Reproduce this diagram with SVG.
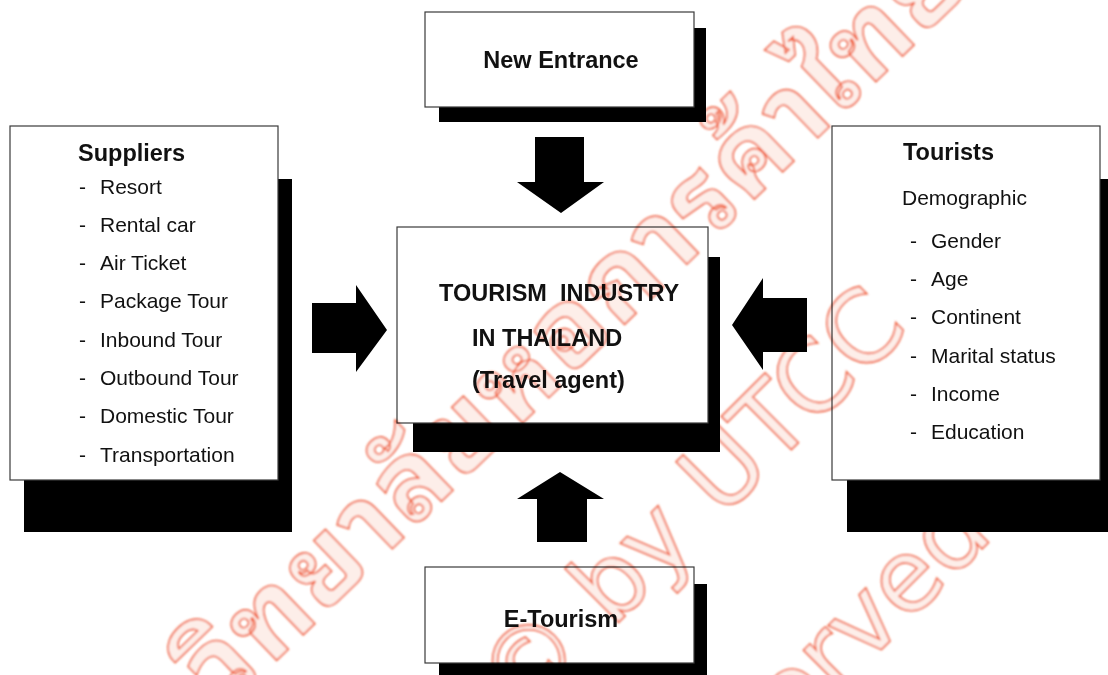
<svg xmlns="http://www.w3.org/2000/svg" width="1108" height="675" viewBox="0 0 1108 675">
  <defs>
    <filter id="soft" x="-5%" y="-5%" width="110%" height="110%">
      <feGaussianBlur stdDeviation="0.8"/>
    </filter>
  </defs>
  <style>
    .box { fill: #ffffff; stroke: #3a3a3a; stroke-width: 1.2; }
    .shadow { fill: #000000; }
    .arrow { fill: #000000; }
    .title { font-family: "Liberation Sans", Arial, sans-serif; font-size: 23.5px; font-weight: bold; fill: #111; }
    .item { font-family: "Liberation Sans", Arial, sans-serif; font-size: 21px; fill: #111; }
    .wm { font-family: "Noto Sans Thai Looped", "Noto Serif Thai", "Noto Sans Thai", "Loma", "Garuda", sans-serif; font-weight: bold; fill: #fdeee9; stroke: #f0603c; stroke-width: 1.6; }
    .wm-en { font-family: "DejaVu Sans", "Liberation Sans", sans-serif; fill: #fdeee9; stroke: #f0603c; stroke-width: 1.6; }
  </style>
  <rect width="1108" height="675" fill="#ffffff"/>

  <!-- Suppliers -->
  <g id="suppliers">
    <rect class="shadow" x="24" y="179" width="268" height="353"/>
    <rect class="box" x="10" y="126" width="268" height="354"/>
    <text class="title" x="78" y="161">Suppliers</text>
    <g class="item">
      <text x="79" y="194">-</text><text x="100" y="194">Resort</text>
      <text x="79" y="232">-</text><text x="100" y="232">Rental car</text>
      <text x="79" y="270">-</text><text x="100" y="270">Air Ticket</text>
      <text x="79" y="308">-</text><text x="100" y="308">Package Tour</text>
      <text x="79" y="347">-</text><text x="100" y="347">Inbound Tour</text>
      <text x="79" y="385">-</text><text x="100" y="385">Outbound Tour</text>
      <text x="79" y="423">-</text><text x="100" y="423">Domestic Tour</text>
      <text x="79" y="462">-</text><text x="100" y="462">Transportation</text>
    </g>
  </g>

  <!-- Tourists -->
  <g id="tourists">
    <rect class="shadow" x="847" y="179" width="270" height="353"/>
    <rect class="box" x="832" y="126" width="268" height="354"/>
    <text class="title" x="903" y="160">Tourists</text>
    <text class="item" x="902" y="205">Demographic</text>
    <g class="item">
      <text x="910" y="248">-</text><text x="931" y="248">Gender</text>
      <text x="910" y="286">-</text><text x="931" y="286">Age</text>
      <text x="910" y="324">-</text><text x="931" y="324">Continent</text>
      <text x="910" y="363">-</text><text x="931" y="363">Marital status</text>
      <text x="910" y="401">-</text><text x="931" y="401">Income</text>
      <text x="910" y="439">-</text><text x="931" y="439">Education</text>
    </g>
  </g>

  <!-- New Entrance -->
  <g id="new-entrance">
    <rect class="shadow" x="439" y="28" width="267" height="94"/>
    <rect class="box" x="425" y="12" width="269" height="95"/>
    <text class="title" x="561" y="68" text-anchor="middle">New Entrance</text>
  </g>

  <!-- Tourism industry (centre) -->
  <g id="industry">
    <rect class="shadow" x="413" y="257" width="307" height="195"/>
    <rect class="box" x="397" y="227" width="311" height="196"/>
    <text class="title" x="439" y="301" xml:space="preserve">TOURISM  INDUSTRY</text>
    <text class="title" x="472" y="346">IN THAILAND</text>
    <text class="title" x="472" y="388">(Travel agent)</text>
  </g>

  <!-- E-Tourism -->
  <g id="e-tourism">
    <rect class="shadow" x="439" y="584" width="268" height="100"/>
    <rect class="box" x="425" y="567" width="269" height="96"/>
    <text class="title" x="561" y="627" text-anchor="middle">E-Tourism</text>
  </g>

  <!-- Block arrows pointing at the centre -->
  <g id="connectors">
    <polygon class="arrow" points="535,137 584,137 584,182 604,182 561,213 517,182 535,182"/>
    <polygon class="arrow" points="537,542 587,542 587,499 604,499 560,472 517,499 537,499"/>
    <polygon class="arrow" points="312,303 356,303 356,285 387,330 356,372 356,353 312,353"/>
    <polygon class="arrow" points="807,298 763,298 763,278 732,325 763,370 763,352 807,352"/>
  </g>

  <!-- Copyright watermark, multiplied over the page -->
  <g id="watermark" style="mix-blend-mode: multiply" filter="url(#soft)">
    <text class="wm" font-size="108" letter-spacing="3" text-anchor="end" transform="translate(975,-14) rotate(-44)">ลิขสิทธิ์มหาวิทยาลัยหอการค้าไทย</text>
    <text class="wm-en" font-size="100" text-anchor="end" transform="translate(911,330) rotate(-45)">Copyright © by UTCC</text>
    <text class="wm-en" font-size="100" text-anchor="end" transform="translate(995,536) rotate(-45)">All rights reserved</text>
  </g>
</svg>
